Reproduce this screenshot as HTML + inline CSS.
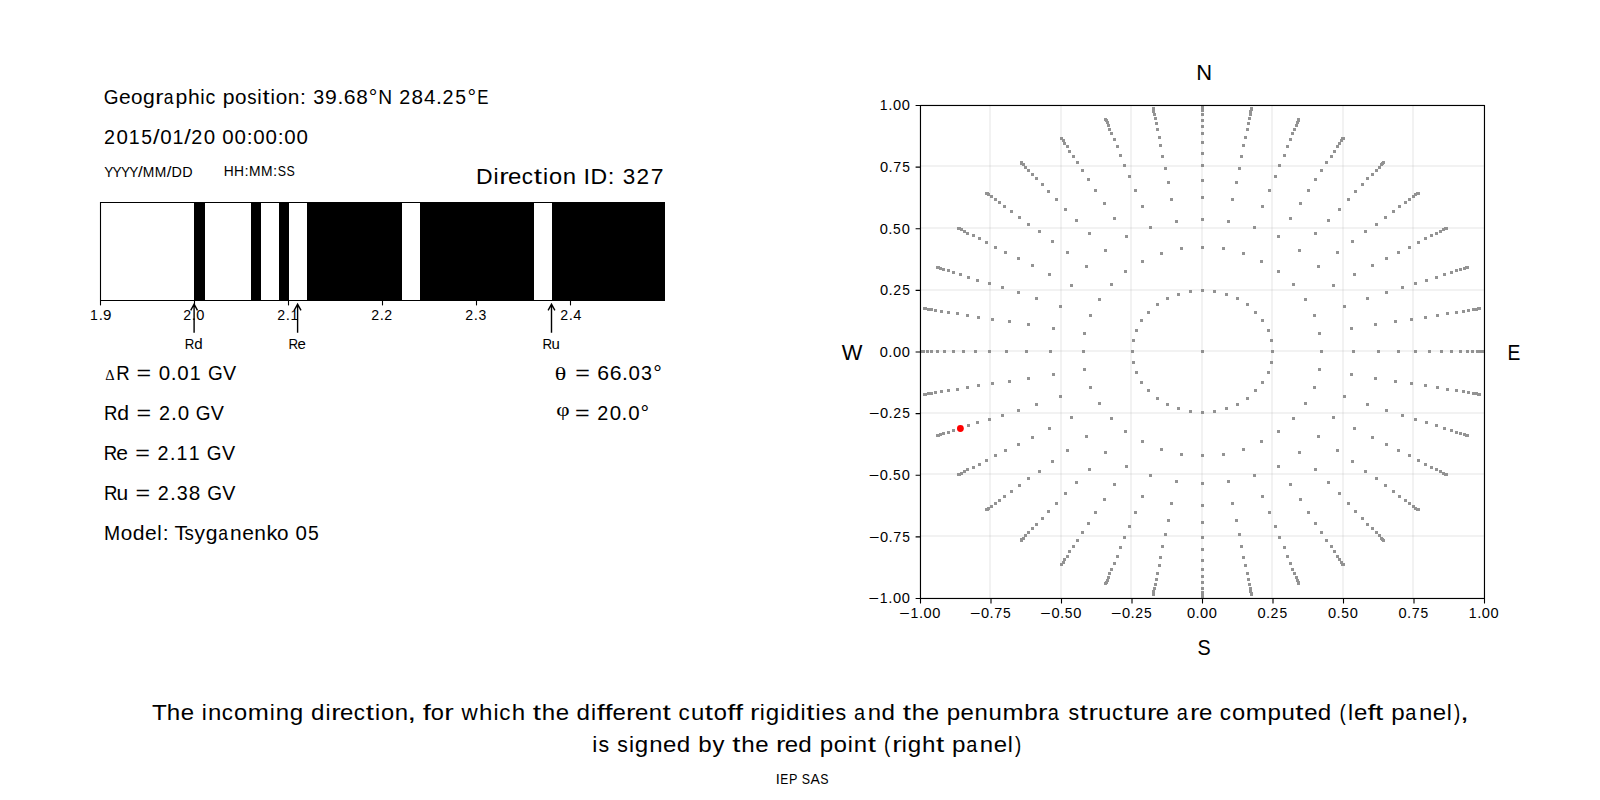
<!DOCTYPE html>
<html><head><meta charset="utf-8"><title>Direction ID 327</title>
<style>html,body{margin:0;padding:0;background:#fff;width:1600px;height:800px;overflow:hidden}svg{display:block}text{fill:#000;font-family:"Liberation Sans",sans-serif;}</style>
</head><body>
<svg width="1600" height="800" viewBox="0 0 1600 800">
<rect width="1600" height="800" fill="#fff"/>
<rect x="194" y="202" width="11" height="99" fill="#000"/>
<rect x="251" y="202" width="10" height="99" fill="#000"/>
<rect x="279" y="202" width="10" height="99" fill="#000"/>
<rect x="307" y="202" width="95" height="99" fill="#000"/>
<rect x="420" y="202" width="114" height="99" fill="#000"/>
<rect x="552" y="202" width="113" height="99" fill="#000"/>
<path d="M100.5,202 V301 M100,202.5 H665 M100,300.5 H665" stroke="#000" stroke-width="1.1" fill="none"/>
<line x1="100.5" y1="300.5" x2="100.5" y2="305.4" stroke="#000" stroke-width="1.1"/>
<line x1="194.5" y1="300.5" x2="194.5" y2="305.4" stroke="#000" stroke-width="1.1"/>
<line x1="288.5" y1="300.5" x2="288.5" y2="305.4" stroke="#000" stroke-width="1.1"/>
<line x1="382.5" y1="300.5" x2="382.5" y2="305.4" stroke="#000" stroke-width="1.1"/>
<line x1="476.5" y1="300.5" x2="476.5" y2="305.4" stroke="#000" stroke-width="1.1"/>
<line x1="570.5" y1="300.5" x2="570.5" y2="305.4" stroke="#000" stroke-width="1.1"/>
<path d="M194.1,305 V332.7 M190.70,310.3 L194.1,304.1 L197.50,310.3" stroke="#000" stroke-width="1.4" fill="none"/>
<path d="M297.6,305 V332.7 M294.20,310.3 L297.6,304.1 L301.00,310.3" stroke="#000" stroke-width="1.4" fill="none"/>
<path d="M551.5,305 V332.7 M548.10,310.3 L551.5,304.1 L554.90,310.3" stroke="#000" stroke-width="1.4" fill="none"/>
<path d="M920,106 V598 M990,106 V598 M1061,106 V598 M1131,106 V598 M1202,106 V598 M1272,106 V598 M1343,106 V598 M1413,106 V598 M1484,106 V598" stroke="#b0b0b0" stroke-opacity="0.16" stroke-width="2" fill="none"/>
<path d="M921,598 H1484 M921,536 H1484 M921,474 H1484 M921,413 H1484 M921,351 H1484 M921,290 H1484 M921,228 H1484 M921,166 H1484 M921,105 H1484" stroke="#b0b0b0" stroke-opacity="0.16" stroke-width="2" fill="none"/>
<path d="M1201,350H1204V353H1201zM1131,350H1134V353H1131zM1132,361H1135V364H1132zM1135,371H1138V374H1135zM1140,381H1143V384H1140zM1147,389H1150V392H1147zM1156,397H1159V400H1156zM1166,403H1169V406H1166zM1177,407H1180V410H1177zM1189,410H1192V413H1189zM1201,411H1204V414H1201zM1213,410H1216V413H1213zM1225,407H1228V410H1225zM1236,403H1239V406H1236zM1246,397H1249V400H1246zM1254,389H1257V392H1254zM1261,381H1264V384H1261zM1267,371H1270V374H1267zM1270,361H1273V364H1270zM1271,350H1274V353H1271zM1270,339H1273V342H1270zM1267,329H1270V332H1267zM1261,319H1264V322H1261zM1254,311H1257V314H1254zM1246,303H1249V306H1246zM1236,297H1239V300H1236zM1225,293H1228V296H1225zM1213,290H1216V293H1213zM1201,289H1204V292H1201zM1189,290H1192V293H1189zM1177,293H1180V296H1177zM1166,297H1169V300H1166zM1156,303H1159V306H1156zM1147,311H1150V314H1147zM1140,319H1143V322H1140zM1135,329H1138V332H1135zM1132,339H1135V342H1132zM1082,350H1085V353H1082zM1083,368H1086V371H1083zM1089,386H1092V389H1089zM1098,402H1101V405H1098zM1110,417H1113V420H1110zM1124,430H1127V433H1124zM1141,440H1144V443H1141zM1160,448H1163V451H1160zM1180,453H1183V456H1180zM1201,454H1204V457H1201zM1222,453H1225V456H1222zM1242,448H1245V451H1242zM1260,440H1263V443H1260zM1277,430H1280V433H1277zM1292,417H1295V420H1292zM1304,402H1307V405H1304zM1313,386H1316V389H1313zM1318,368H1321V371H1318zM1320,350H1323V353H1320zM1318,332H1321V335H1318zM1313,314H1316V317H1313zM1304,298H1307V301H1304zM1292,283H1295V286H1292zM1277,270H1280V273H1277zM1260,260H1263V263H1260zM1242,252H1245V255H1242zM1222,247H1225V250H1222zM1201,246H1204V249H1201zM1180,247H1183V250H1180zM1160,252H1163V255H1160zM1141,260H1144V263H1141zM1124,270H1127V273H1124zM1110,283H1113V286H1110zM1098,298H1101V301H1098zM1089,314H1092V317H1089zM1083,332H1086V335H1083zM1049,350H1052V353H1049zM1052,373H1055V376H1052zM1059,395H1062V398H1059zM1070,416H1073V419H1070zM1085,435H1088V438H1085zM1104,451H1107V454H1104zM1125,465H1128V468H1125zM1149,474H1152V477H1149zM1175,480H1178V483H1175zM1201,482H1204V485H1201zM1227,480H1230V483H1227zM1253,474H1256V477H1253zM1277,465H1280V468H1277zM1298,451H1301V454H1298zM1317,435H1320V438H1317zM1332,416H1335V419H1332zM1343,395H1346V398H1343zM1350,373H1353V376H1350zM1352,350H1355V353H1352zM1350,327H1353V330H1350zM1343,305H1346V308H1343zM1332,284H1335V287H1332zM1317,265H1320V268H1317zM1298,249H1301V252H1298zM1277,235H1280V238H1277zM1253,226H1256V229H1253zM1227,220H1230V223H1227zM1201,218H1204V221H1201zM1175,220H1178V223H1175zM1149,226H1152V229H1149zM1125,235H1128V238H1125zM1104,249H1107V252H1104zM1085,265H1088V268H1085zM1070,284H1073V287H1070zM1059,305H1062V308H1059zM1052,327H1055V330H1052zM1025,350H1028V353H1025zM1027,377H1030V380H1027zM1035,403H1038V406H1035zM1048,427H1051V430H1048zM1066,449H1069V452H1066zM1088,468H1091V471H1088zM1113,483H1116V486H1113zM1141,495H1144V498H1141zM1170,502H1173V505H1170zM1201,504H1204V507H1201zM1231,502H1234V505H1231zM1261,495H1264V498H1261zM1289,483H1292V486H1289zM1314,468H1317V471H1314zM1336,449H1339V452H1336zM1353,427H1356V430H1353zM1366,403H1369V406H1366zM1374,377H1377V380H1374zM1377,350H1380V353H1377zM1374,323H1377V326H1374zM1366,297H1369V300H1366zM1353,273H1356V276H1353zM1336,251H1339V254H1336zM1314,232H1317V235H1314zM1289,217H1292V220H1289zM1261,205H1264V208H1261zM1231,198H1234V201H1231zM1201,196H1204V199H1201zM1170,198H1173V201H1170zM1141,205H1144V208H1141zM1113,217H1116V220H1113zM1088,232H1091V235H1088zM1066,251H1069V254H1066zM1048,273H1051V276H1048zM1035,297H1038V300H1035zM1027,323H1030V326H1027zM1005,350H1008V353H1005zM1008,380H1011V383H1008zM1017,409H1020V412H1017zM1031,436H1034V439H1031zM1051,460H1054V463H1051zM1075,481H1078V484H1075zM1103,498H1106V501H1103zM1134,511H1137V514H1134zM1167,519H1170V522H1167zM1201,521H1204V524H1201zM1235,519H1238V522H1235zM1268,511H1271V514H1268zM1299,498H1302V501H1299zM1327,481H1330V484H1327zM1351,460H1354V463H1351zM1371,436H1374V439H1371zM1385,409H1388V412H1385zM1394,380H1397V383H1394zM1397,350H1400V353H1397zM1394,320H1397V323H1394zM1385,291H1388V294H1385zM1371,264H1374V267H1371zM1351,240H1354V243H1351zM1327,219H1330V222H1327zM1299,202H1302V205H1299zM1268,189H1271V192H1268zM1235,181H1238V184H1235zM1201,179H1204V182H1201zM1167,181H1170V184H1167zM1134,189H1137V192H1134zM1103,202H1106V205H1103zM1075,219H1078V222H1075zM1051,240H1054V243H1051zM1031,264H1034V267H1031zM1017,291H1020V294H1017zM1008,320H1011V323H1008zM988,350H991V353H988zM991,382H994V385H991zM1001,414H1004V417H1001zM1017,443H1020V446H1017zM1038,470H1041V473H1038zM1064,492H1067V495H1064zM1094,511H1097V514H1094zM1128,525H1131V528H1128zM1164,533H1167V536H1164zM1201,536H1204V539H1201zM1238,533H1241V536H1238zM1274,525H1277V528H1274zM1307,511H1310V514H1307zM1338,492H1341V495H1338zM1364,470H1367V473H1364zM1385,443H1388V446H1385zM1401,414H1404V417H1401zM1410,382H1413V385H1410zM1414,350H1417V353H1414zM1410,318H1413V321H1410zM1401,286H1404V289H1401zM1385,257H1388V260H1385zM1364,230H1367V233H1364zM1338,208H1341V211H1338zM1307,189H1310V192H1307zM1274,175H1277V178H1274zM1238,167H1241V170H1238zM1201,164H1204V167H1201zM1164,167H1167V170H1164zM1128,175H1131V178H1128zM1094,189H1097V192H1094zM1064,208H1067V211H1064zM1038,230H1041V233H1038zM1017,257H1020V260H1017zM1001,286H1004V289H1001zM991,318H994V321H991zM974,350H977V353H974zM977,384H980V387H977zM988,418H991V421H988zM1004,449H1007V452H1004zM1027,477H1030V480H1027zM1055,502H1058V505H1055zM1087,522H1090V525H1087zM1123,536H1126V539H1123zM1161,545H1164V548H1161zM1201,548H1204V551H1201zM1240,545H1243V548H1240zM1278,536H1281V539H1278zM1314,522H1317V525H1314zM1347,502H1350V505H1347zM1375,477H1378V480H1375zM1397,449H1400V452H1397zM1414,418H1417V421H1414zM1424,384H1427V387H1424zM1428,350H1431V353H1428zM1424,316H1427V319H1424zM1414,282H1417V285H1414zM1397,251H1400V254H1397zM1375,223H1378V226H1375zM1347,198H1350V201H1347zM1314,178H1317V181H1314zM1278,164H1281V167H1278zM1240,155H1243V158H1240zM1201,152H1204V155H1201zM1161,155H1164V158H1161zM1123,164H1126V167H1123zM1087,178H1090V181H1087zM1055,198H1058V201H1055zM1027,223H1030V226H1027zM1004,251H1007V254H1004zM988,282H991V285H988zM977,316H980V319H977zM962,350H965V353H962zM966,386H969V389H966zM976,421H979V424H976zM994,454H997V457H994zM1018,484H1021V487H1018zM1047,510H1050V513H1047zM1081,531H1084V534H1081zM1119,546H1122V549H1119zM1159,556H1162V559H1159zM1201,559H1204V562H1201zM1242,556H1245V559H1242zM1283,546H1286V549H1283zM1320,531H1323V534H1320zM1354,510H1357V513H1354zM1384,484H1387V487H1384zM1408,454H1411V457H1408zM1425,421H1428V424H1425zM1436,386H1439V389H1436zM1440,350H1443V353H1440zM1436,314H1439V317H1436zM1425,279H1428V282H1425zM1408,246H1411V249H1408zM1384,216H1387V219H1384zM1354,190H1357V193H1354zM1320,169H1323V172H1320zM1283,154H1286V157H1283zM1242,144H1245V147H1242zM1201,141H1204V144H1201zM1159,144H1162V147H1159zM1119,154H1122V157H1119zM1081,169H1084V172H1081zM1047,190H1050V193H1047zM1018,216H1021V219H1018zM994,246H997V249H994zM976,279H979V282H976zM966,314H969V317H966zM952,350H955V353H952zM956,388H959V391H956zM967,424H970V427H967zM985,459H988V462H985zM1010,490H1013V493H1010zM1041,517H1044V520H1041zM1076,539H1079V542H1076zM1116,555H1119V558H1116zM1158,564H1161V567H1158zM1201,568H1204V571H1201zM1244,564H1247V567H1244zM1286,555H1289V558H1286zM1325,539H1328V542H1325zM1361,517H1364V520H1361zM1392,490H1395V493H1392zM1417,459H1420V462H1417zM1435,424H1438V427H1435zM1446,388H1449V391H1446zM1450,350H1453V353H1450zM1446,312H1449V315H1446zM1435,276H1438V279H1435zM1417,241H1420V244H1417zM1392,210H1395V213H1392zM1361,183H1364V186H1361zM1325,161H1328V164H1325zM1286,145H1289V148H1286zM1244,136H1247V139H1244zM1201,132H1204V135H1201zM1158,136H1161V139H1158zM1116,145H1119V148H1116zM1076,161H1079V164H1076zM1041,183H1044V186H1041zM1010,210H1013V213H1010zM985,241H988V244H985zM967,276H970V279H967zM956,312H959V315H956zM943,350H946V353H943zM947,389H950V392H947zM959,427H962V430H959zM978,463H981V466H978zM1003,495H1006V498H1003zM1035,523H1038V526H1035zM1072,545H1075V548H1072zM1113,562H1116V565H1113zM1156,572H1159V575H1156zM1201,575H1204V578H1201zM1246,572H1249V575H1246zM1289,562H1292V565H1289zM1330,545H1333V548H1330zM1366,523H1369V526H1366zM1398,495H1401V498H1398zM1424,463H1427V466H1424zM1443,427H1446V430H1443zM1455,389H1458V392H1455zM1459,350H1462V353H1459zM1455,311H1458V314H1455zM1443,273H1446V276H1443zM1424,237H1427V240H1424zM1398,205H1401V208H1398zM1366,177H1369V180H1366zM1330,155H1333V158H1330zM1289,138H1292V141H1289zM1246,128H1249V131H1246zM1201,125H1204V128H1201zM1156,128H1159V131H1156zM1113,138H1116V141H1113zM1072,155H1075V158H1072zM1035,177H1038V180H1035zM1003,205H1006V208H1003zM978,237H981V240H978zM959,273H962V276H959zM947,311H950V314H947zM936,350H939V353H936zM940,390H943V393H940zM952,429H955V432H952zM972,466H975V469H972zM998,499H1001V502H998zM1031,527H1034V530H1031zM1068,550H1071V553H1068zM1110,568H1113V571H1110zM1155,578H1158V581H1155zM1201,581H1204V584H1201zM1247,578H1250V581H1247zM1291,568H1294V571H1291zM1333,550H1336V553H1333zM1371,527H1374V530H1371zM1404,499H1407V502H1404zM1430,466H1433V469H1430zM1450,429H1453V432H1450zM1462,390H1465V393H1462zM1466,350H1469V353H1466zM1462,310H1465V313H1462zM1450,271H1453V274H1450zM1430,234H1433V237H1430zM1404,201H1407V204H1404zM1371,173H1374V176H1371zM1333,150H1336V153H1333zM1291,132H1294V135H1291zM1247,122H1250V125H1247zM1201,119H1204V122H1201zM1155,122H1158V125H1155zM1110,132H1113V135H1110zM1068,150H1071V153H1068zM1031,173H1034V176H1031zM998,201H1001V204H998zM972,234H975V237H972zM952,271H955V274H952zM940,310H943V313H940zM930,350H933V353H930zM934,391H937V394H934zM947,431H950V434H947zM966,468H969V471H966zM994,502H997V505H994zM1027,531H1030V534H1027zM1066,555H1069V558H1066zM1108,572H1111V575H1108zM1154,583H1157V586H1154zM1201,587H1204V590H1201zM1248,583H1251V586H1248zM1293,572H1296V575H1293zM1336,555H1339V558H1336zM1375,531H1378V534H1375zM1408,502H1411V505H1408zM1435,468H1438V471H1435zM1455,431H1458V434H1455zM1467,391H1470V394H1467zM1471,350H1474V353H1471zM1467,309H1470V312H1467zM1455,269H1458V272H1455zM1435,232H1438V235H1435zM1408,198H1411V201H1408zM1375,169H1378V172H1375zM1336,145H1339V148H1336zM1293,128H1296V131H1293zM1248,117H1251V120H1248zM1201,113H1204V116H1201zM1154,117H1157V120H1154zM1108,128H1111V131H1108zM1066,145H1069V148H1066zM1027,169H1030V172H1027zM994,198H997V201H994zM966,232H969V235H966zM947,269H950V272H947zM934,309H937V312H934zM926,350H929V353H926zM930,392H933V395H930zM942,432H945V435H942zM963,470H966V473H963zM990,505H993V508H990zM1024,534H1027V537H1024zM1063,558H1066V561H1063zM1107,576H1110V579H1107zM1153,587H1156V590H1153zM1201,591H1204V594H1201zM1249,587H1252V590H1249zM1295,576H1298V579H1295zM1338,558H1341V561H1338zM1378,534H1381V537H1378zM1412,505H1415V508H1412zM1439,470H1442V473H1439zM1459,432H1462V435H1459zM1472,392H1475V395H1472zM1476,350H1479V353H1476zM1472,308H1475V311H1472zM1459,268H1462V271H1459zM1439,230H1442V233H1439zM1412,195H1415V198H1412zM1378,166H1381V169H1378zM1338,142H1341V145H1338zM1295,124H1298V127H1295zM1249,113H1252V116H1249zM1201,109H1204V112H1201zM1153,113H1156V116H1153zM1107,124H1110V127H1107zM1063,142H1066V145H1063zM1024,166H1027V169H1024zM990,195H993V198H990zM963,230H966V233H963zM942,268H945V271H942zM930,308H933V311H930zM922,350H925V353H922zM927,392H930V395H927zM939,433H942V436H939zM960,472H963V475H960zM987,507H990V510H987zM1022,537H1025V540H1022zM1062,561H1065V564H1062zM1106,579H1109V582H1106zM1152,590H1155V593H1152zM1201,593H1204V596H1201zM1249,590H1252V593H1249zM1296,579H1299V582H1296zM1340,561H1343V564H1340zM1380,537H1383V540H1380zM1414,507H1417V510H1414zM1442,472H1445V475H1442zM1463,433H1466V436H1463zM1475,392H1478V395H1475zM1479,350H1482V353H1479zM1475,308H1478V311H1475zM1463,267H1466V270H1463zM1442,228H1445V231H1442zM1414,193H1417V196H1414zM1380,163H1383V166H1380zM1340,139H1343V142H1340zM1296,121H1299V124H1296zM1249,110H1252V113H1249zM1201,107H1204V110H1201zM1152,110H1155V113H1152zM1106,121H1109V124H1106zM1062,139H1065V142H1062zM1022,163H1025V166H1022zM987,193H990V196H987zM960,228H963V231H960zM939,267H942V270H939zM927,308H930V311H927zM921,350H923V353H921zM924,393H927V396H924zM937,434H940V437H937zM958,473H961V476H958zM986,508H989V511H986zM1020,538H1023V541H1020zM1060,563H1063V566H1060zM1105,581H1108V584H1105zM1152,592H1155V595H1152zM1201,595H1204V598H1201zM1250,592H1253V595H1250zM1297,581H1300V584H1297zM1341,563H1344V566H1341zM1381,538H1384V541H1381zM1416,508H1419V511H1416zM1444,473H1447V476H1444zM1465,434H1468V437H1465zM1477,393H1480V396H1477zM1482,350H1484V353H1482zM1477,307H1480V310H1477zM1465,266H1468V269H1465zM1444,227H1447V230H1444zM1416,192H1419V195H1416zM1381,162H1384V165H1381zM1341,137H1344V140H1341zM1297,119H1300V122H1297zM1250,108H1253V111H1250zM1201,106H1204V108H1201zM1152,108H1155V111H1152zM1105,119H1108V122H1105zM1060,137H1063V140H1060zM1020,162H1023V165H1020zM986,192H989V195H986zM958,227H961V230H958zM937,266H940V269H937zM924,307H927V310H924zM921,350H922V353H921zM923,393H926V396H923zM936,434H939V437H936zM957,473H960V476H957zM985,508H988V511H985zM1020,539H1023V542H1020zM1060,563H1063V566H1060zM1104,582H1107V585H1104zM1152,593H1155V596H1152zM1201,596H1204V598H1201zM1250,593H1253V596H1250zM1297,582H1300V585H1297zM1342,563H1345V566H1342zM1382,539H1385V542H1382zM1417,508H1420V511H1417zM1445,473H1448V476H1445zM1466,434H1469V437H1466zM1478,393H1481V396H1478zM1483,350H1484V353H1483zM1478,307H1481V310H1478zM1466,266H1469V269H1466zM1445,227H1448V230H1445zM1417,192H1420V195H1417zM1382,161H1385V164H1382zM1342,137H1345V140H1342zM1297,118H1300V121H1297zM1250,107H1253V110H1250zM1201,106H1204V107H1201zM1152,107H1155V110H1152zM1104,118H1107V121H1104zM1060,137H1063V140H1060zM1020,161H1023V164H1020zM985,192H988V195H985zM957,227H960V230H957zM936,266H939V269H936zM923,307H926V310H923z" fill="#808080" fill-opacity="0.85"/>
<circle cx="960.4" cy="428.5" r="3.4" fill="#ff0000"/>
<rect x="920.5" y="105.5" width="564" height="493" fill="none" stroke="#000" stroke-width="1.1"/>
<path d="M920.50,598.5 V603.4 M920.5,598.50 H915.6 M991.00,598.5 V603.4 M920.5,536.88 H915.6 M1061.50,598.5 V603.4 M920.5,475.25 H915.6 M1132.00,598.5 V603.4 M920.5,413.62 H915.6 M1202.50,598.5 V603.4 M920.5,352.00 H915.6 M1273.00,598.5 V603.4 M920.5,290.38 H915.6 M1343.50,598.5 V603.4 M920.5,228.75 H915.6 M1414.00,598.5 V603.4 M920.5,167.12 H915.6 M1484.50,598.5 V603.4 M920.5,105.50 H915.6" stroke="#000" stroke-width="1.1" fill="none"/>
<text transform="translate(103.73,104.00)" y="0" font-size="19.44"><tspan x="0.14" textLength="14.75" lengthAdjust="spacingAndGlyphs">G</tspan><tspan x="15.31" textLength="11.68" lengthAdjust="spacingAndGlyphs">e</tspan><tspan x="27.33" textLength="11.50" lengthAdjust="spacingAndGlyphs">o</tspan><tspan x="39.31" textLength="11.75" lengthAdjust="spacingAndGlyphs">g</tspan><tspan x="51.61" textLength="8.30" lengthAdjust="spacingAndGlyphs">r</tspan><tspan x="60.05" textLength="9.72" lengthAdjust="spacingAndGlyphs">a</tspan><tspan x="71.90" textLength="11.77" lengthAdjust="spacingAndGlyphs">p</tspan><tspan x="84.18" textLength="11.74" lengthAdjust="spacingAndGlyphs">h</tspan><tspan x="96.63" textLength="4.42" lengthAdjust="spacingAndGlyphs">i</tspan><tspan x="101.87" textLength="9.76" lengthAdjust="spacingAndGlyphs">c</tspan> <tspan x="119.03" textLength="11.77" lengthAdjust="spacingAndGlyphs">p</tspan><tspan x="131.20" textLength="11.50" lengthAdjust="spacingAndGlyphs">o</tspan><tspan x="143.54" textLength="9.32" lengthAdjust="spacingAndGlyphs">s</tspan><tspan x="153.63" textLength="4.42" lengthAdjust="spacingAndGlyphs">i</tspan><tspan x="158.75" textLength="7.22" lengthAdjust="spacingAndGlyphs">t</tspan><tspan x="166.75" textLength="4.42" lengthAdjust="spacingAndGlyphs">i</tspan><tspan x="171.95" textLength="11.50" lengthAdjust="spacingAndGlyphs">o</tspan><tspan x="184.12" textLength="11.66" lengthAdjust="spacingAndGlyphs">n</tspan><tspan x="196.36" textLength="5.85" lengthAdjust="spacingAndGlyphs">:</tspan> <tspan x="209.48" textLength="10.95" lengthAdjust="spacingAndGlyphs">3</tspan><tspan x="221.36" textLength="11.77" lengthAdjust="spacingAndGlyphs">9</tspan><tspan x="233.66" textLength="5.85" lengthAdjust="spacingAndGlyphs">.</tspan><tspan x="240.03" textLength="11.80" lengthAdjust="spacingAndGlyphs">6</tspan><tspan x="252.54" textLength="11.52" lengthAdjust="spacingAndGlyphs">8</tspan><tspan x="265.07" textLength="8.59" lengthAdjust="spacingAndGlyphs">°</tspan><tspan x="274.58" textLength="13.87" lengthAdjust="spacingAndGlyphs">N</tspan> <tspan x="295.43" textLength="10.99" lengthAdjust="spacingAndGlyphs">2</tspan><tspan x="307.79" textLength="11.52" lengthAdjust="spacingAndGlyphs">8</tspan><tspan x="320.23" textLength="11.40" lengthAdjust="spacingAndGlyphs">4</tspan><tspan x="332.28" textLength="5.85" lengthAdjust="spacingAndGlyphs">.</tspan><tspan x="338.81" textLength="10.99" lengthAdjust="spacingAndGlyphs">2</tspan><tspan x="351.48" textLength="10.76" lengthAdjust="spacingAndGlyphs">5</tspan><tspan x="363.82" textLength="8.59" lengthAdjust="spacingAndGlyphs">°</tspan><tspan x="373.53" textLength="11.24" lengthAdjust="spacingAndGlyphs">E</tspan></text>
<text transform="translate(103.55,144.00)" y="0" font-size="19.44"><tspan x="0.43" textLength="10.99" lengthAdjust="spacingAndGlyphs">2</tspan><tspan x="12.86" textLength="11.40" lengthAdjust="spacingAndGlyphs">0</tspan><tspan x="25.27" textLength="10.89" lengthAdjust="spacingAndGlyphs">1</tspan><tspan x="37.73" textLength="10.76" lengthAdjust="spacingAndGlyphs">5</tspan><tspan x="49.50" textLength="6.55" lengthAdjust="spacingAndGlyphs">/</tspan><tspan x="56.61" textLength="11.40" lengthAdjust="spacingAndGlyphs">0</tspan><tspan x="69.02" textLength="10.89" lengthAdjust="spacingAndGlyphs">1</tspan><tspan x="80.75" textLength="6.55" lengthAdjust="spacingAndGlyphs">/</tspan><tspan x="87.81" textLength="10.99" lengthAdjust="spacingAndGlyphs">2</tspan><tspan x="100.23" textLength="11.40" lengthAdjust="spacingAndGlyphs">0</tspan> <tspan x="118.73" textLength="11.40" lengthAdjust="spacingAndGlyphs">0</tspan><tspan x="130.98" textLength="11.40" lengthAdjust="spacingAndGlyphs">0</tspan><tspan x="143.11" textLength="5.85" lengthAdjust="spacingAndGlyphs">:</tspan><tspan x="149.73" textLength="11.40" lengthAdjust="spacingAndGlyphs">0</tspan><tspan x="161.98" textLength="11.40" lengthAdjust="spacingAndGlyphs">0</tspan><tspan x="174.11" textLength="5.85" lengthAdjust="spacingAndGlyphs">:</tspan><tspan x="180.73" textLength="11.40" lengthAdjust="spacingAndGlyphs">0</tspan><tspan x="192.98" textLength="11.40" lengthAdjust="spacingAndGlyphs">0</tspan></text>
<text transform="translate(104.53,176.90)" y="0" font-size="14.17"><tspan x="-0.33" textLength="9.14" lengthAdjust="spacingAndGlyphs">Y</tspan><tspan x="8.05" textLength="9.14" lengthAdjust="spacingAndGlyphs">Y</tspan><tspan x="16.42" textLength="9.14" lengthAdjust="spacingAndGlyphs">Y</tspan><tspan x="24.80" textLength="9.14" lengthAdjust="spacingAndGlyphs">Y</tspan><tspan x="33.50" textLength="4.68" lengthAdjust="spacingAndGlyphs">/</tspan><tspan x="38.35" textLength="11.54" lengthAdjust="spacingAndGlyphs">M</tspan><tspan x="50.35" textLength="11.54" lengthAdjust="spacingAndGlyphs">M</tspan><tspan x="62.13" textLength="4.68" lengthAdjust="spacingAndGlyphs">/</tspan><tspan x="66.93" textLength="10.38" lengthAdjust="spacingAndGlyphs">D</tspan><tspan x="77.68" textLength="10.38" lengthAdjust="spacingAndGlyphs">D</tspan></text>
<text transform="translate(223.42,176.00)" y="0" font-size="14.17"><tspan x="0.23" textLength="9.98" lengthAdjust="spacingAndGlyphs">H</tspan><tspan x="10.60" textLength="9.98" lengthAdjust="spacingAndGlyphs">H</tspan><tspan x="21.01" textLength="4.18" lengthAdjust="spacingAndGlyphs">:</tspan><tspan x="25.60" textLength="11.54" lengthAdjust="spacingAndGlyphs">M</tspan><tspan x="37.60" textLength="11.54" lengthAdjust="spacingAndGlyphs">M</tspan><tspan x="49.63" textLength="4.18" lengthAdjust="spacingAndGlyphs">:</tspan><tspan x="54.35" textLength="8.26" lengthAdjust="spacingAndGlyphs">S</tspan><tspan x="63.10" textLength="8.26" lengthAdjust="spacingAndGlyphs">S</tspan></text>
<text transform="translate(475.73,183.75)" y="0" font-size="22.22"><tspan x="0.29" textLength="16.60" lengthAdjust="spacingAndGlyphs">D</tspan><tspan x="17.70" textLength="5.05" lengthAdjust="spacingAndGlyphs">i</tspan><tspan x="23.50" textLength="9.48" lengthAdjust="spacingAndGlyphs">r</tspan><tspan x="32.33" textLength="13.35" lengthAdjust="spacingAndGlyphs">e</tspan><tspan x="46.03" textLength="11.15" lengthAdjust="spacingAndGlyphs">c</tspan><tspan x="58.15" textLength="8.25" lengthAdjust="spacingAndGlyphs">t</tspan><tspan x="67.32" textLength="5.05" lengthAdjust="spacingAndGlyphs">i</tspan><tspan x="73.23" textLength="13.14" lengthAdjust="spacingAndGlyphs">o</tspan><tspan x="87.05" textLength="13.32" lengthAdjust="spacingAndGlyphs">n</tspan> <tspan x="107.89" textLength="6.53" lengthAdjust="spacingAndGlyphs">I</tspan><tspan x="114.67" textLength="16.60" lengthAdjust="spacingAndGlyphs">D</tspan><tspan x="131.91" textLength="6.68" lengthAdjust="spacingAndGlyphs">:</tspan> <tspan x="146.96" textLength="12.51" lengthAdjust="spacingAndGlyphs">3</tspan><tspan x="160.74" textLength="12.56" lengthAdjust="spacingAndGlyphs">2</tspan><tspan x="175.02" textLength="12.74" lengthAdjust="spacingAndGlyphs">7</tspan></text>
<text transform="translate(105.25,379.80) scale(0.1456,0.1454)" style="font-family:&quot;Liberation Serif&quot;" font-size="100">Δ</text>
<text transform="translate(115.88,379.80)" y="0" font-size="19.44"><tspan x="0.38" textLength="13.43" lengthAdjust="spacingAndGlyphs">R</tspan> <tspan x="20.59" textLength="14.63" lengthAdjust="spacingAndGlyphs">=</tspan> <tspan x="42.98" textLength="11.40" lengthAdjust="spacingAndGlyphs">0</tspan><tspan x="54.91" textLength="5.85" lengthAdjust="spacingAndGlyphs">.</tspan><tspan x="61.48" textLength="11.40" lengthAdjust="spacingAndGlyphs">0</tspan><tspan x="73.90" textLength="10.89" lengthAdjust="spacingAndGlyphs">1</tspan> <tspan x="92.01" textLength="14.75" lengthAdjust="spacingAndGlyphs">G</tspan><tspan x="107.07" textLength="13.16" lengthAdjust="spacingAndGlyphs">V</tspan></text>
<text transform="translate(103.66,420.00)" y="0" font-size="19.44"><tspan x="0.38" textLength="13.43" lengthAdjust="spacingAndGlyphs">R</tspan><tspan x="13.69" textLength="11.75" lengthAdjust="spacingAndGlyphs">d</tspan> <tspan x="32.96" textLength="14.63" lengthAdjust="spacingAndGlyphs">=</tspan> <tspan x="55.31" textLength="10.99" lengthAdjust="spacingAndGlyphs">2</tspan><tspan x="67.41" textLength="5.85" lengthAdjust="spacingAndGlyphs">.</tspan><tspan x="73.98" textLength="11.40" lengthAdjust="spacingAndGlyphs">0</tspan> <tspan x="92.14" textLength="14.75" lengthAdjust="spacingAndGlyphs">G</tspan><tspan x="107.19" textLength="13.16" lengthAdjust="spacingAndGlyphs">V</tspan></text>
<text transform="translate(103.49,459.70)" y="0" font-size="19.44"><tspan x="0.38" textLength="13.43" lengthAdjust="spacingAndGlyphs">R</tspan><tspan x="12.81" textLength="11.68" lengthAdjust="spacingAndGlyphs">e</tspan> <tspan x="31.71" textLength="14.63" lengthAdjust="spacingAndGlyphs">=</tspan> <tspan x="54.06" textLength="10.99" lengthAdjust="spacingAndGlyphs">2</tspan><tspan x="66.16" textLength="5.85" lengthAdjust="spacingAndGlyphs">.</tspan><tspan x="72.90" textLength="10.89" lengthAdjust="spacingAndGlyphs">1</tspan><tspan x="85.27" textLength="10.89" lengthAdjust="spacingAndGlyphs">1</tspan> <tspan x="103.39" textLength="14.75" lengthAdjust="spacingAndGlyphs">G</tspan><tspan x="118.44" textLength="13.16" lengthAdjust="spacingAndGlyphs">V</tspan></text>
<text transform="translate(103.51,499.80)" y="0" font-size="19.44"><tspan x="0.38" textLength="13.43" lengthAdjust="spacingAndGlyphs">R</tspan><tspan x="12.92" textLength="11.66" lengthAdjust="spacingAndGlyphs">u</tspan> <tspan x="31.96" textLength="14.63" lengthAdjust="spacingAndGlyphs">=</tspan> <tspan x="54.31" textLength="10.99" lengthAdjust="spacingAndGlyphs">2</tspan><tspan x="66.41" textLength="5.85" lengthAdjust="spacingAndGlyphs">.</tspan><tspan x="73.23" textLength="10.95" lengthAdjust="spacingAndGlyphs">3</tspan><tspan x="85.29" textLength="11.52" lengthAdjust="spacingAndGlyphs">8</tspan> <tspan x="103.64" textLength="14.75" lengthAdjust="spacingAndGlyphs">G</tspan><tspan x="118.69" textLength="13.16" lengthAdjust="spacingAndGlyphs">V</tspan></text>
<text transform="translate(103.76,539.60)" y="0" font-size="19.44"><tspan x="0.32" textLength="16.15" lengthAdjust="spacingAndGlyphs">M</tspan><tspan x="16.95" textLength="11.50" lengthAdjust="spacingAndGlyphs">o</tspan><tspan x="28.94" textLength="11.75" lengthAdjust="spacingAndGlyphs">d</tspan><tspan x="41.31" textLength="11.68" lengthAdjust="spacingAndGlyphs">e</tspan><tspan x="53.62" textLength="4.42" lengthAdjust="spacingAndGlyphs">l</tspan><tspan x="58.98" textLength="5.85" lengthAdjust="spacingAndGlyphs">:</tspan> <tspan x="70.84" textLength="12.95" lengthAdjust="spacingAndGlyphs">T</tspan><tspan x="80.66" textLength="9.32" lengthAdjust="spacingAndGlyphs">s</tspan><tspan x="90.78" textLength="10.44" lengthAdjust="spacingAndGlyphs">y</tspan><tspan x="101.94" textLength="11.75" lengthAdjust="spacingAndGlyphs">g</tspan><tspan x="114.55" textLength="9.72" lengthAdjust="spacingAndGlyphs">a</tspan><tspan x="126.37" textLength="11.66" lengthAdjust="spacingAndGlyphs">n</tspan><tspan x="138.43" textLength="11.68" lengthAdjust="spacingAndGlyphs">e</tspan><tspan x="150.62" textLength="11.66" lengthAdjust="spacingAndGlyphs">n</tspan><tspan x="162.80" textLength="10.87" lengthAdjust="spacingAndGlyphs">k</tspan><tspan x="173.20" textLength="11.50" lengthAdjust="spacingAndGlyphs">o</tspan> <tspan x="191.73" textLength="11.40" lengthAdjust="spacingAndGlyphs">0</tspan><tspan x="204.23" textLength="10.76" lengthAdjust="spacingAndGlyphs">5</tspan></text>
<text transform="translate(554.77,379.82) scale(0.2412,0.1862)" style="font-family:&quot;Liberation Serif&quot;" font-size="100">θ</text>
<text transform="translate(574.35,379.70)" y="0" font-size="19.44"><tspan x="0.84" textLength="14.63" lengthAdjust="spacingAndGlyphs">=</tspan> <tspan x="23.03" textLength="11.80" lengthAdjust="spacingAndGlyphs">6</tspan><tspan x="35.41" textLength="11.80" lengthAdjust="spacingAndGlyphs">6</tspan><tspan x="47.66" textLength="5.85" lengthAdjust="spacingAndGlyphs">.</tspan><tspan x="54.23" textLength="11.40" lengthAdjust="spacingAndGlyphs">0</tspan><tspan x="66.73" textLength="10.95" lengthAdjust="spacingAndGlyphs">3</tspan><tspan x="78.95" textLength="8.59" lengthAdjust="spacingAndGlyphs">°</tspan></text>
<text transform="translate(556.30,415.83) scale(0.2322,0.1957)" style="font-family:&quot;Liberation Serif&quot;" font-size="100">φ</text>
<text transform="translate(574.10,419.70)" y="0" font-size="19.44"><tspan x="0.84" textLength="14.63" lengthAdjust="spacingAndGlyphs">=</tspan> <tspan x="23.18" textLength="10.99" lengthAdjust="spacingAndGlyphs">2</tspan><tspan x="35.61" textLength="11.40" lengthAdjust="spacingAndGlyphs">0</tspan><tspan x="47.53" textLength="5.85" lengthAdjust="spacingAndGlyphs">.</tspan><tspan x="54.11" textLength="11.40" lengthAdjust="spacingAndGlyphs">0</tspan><tspan x="66.45" textLength="8.59" lengthAdjust="spacingAndGlyphs">°</tspan></text>
<text transform="translate(89.67,320.10)" y="0" font-size="14.17"><tspan x="0.46" textLength="7.78" lengthAdjust="spacingAndGlyphs">1</tspan><tspan x="8.99" textLength="4.18" lengthAdjust="spacingAndGlyphs">.</tspan><tspan x="13.42" textLength="8.41" lengthAdjust="spacingAndGlyphs">9</tspan></text>
<text transform="translate(182.88,320.10)" y="0" font-size="14.17"><tspan x="0.31" textLength="7.85" lengthAdjust="spacingAndGlyphs">2</tspan><tspan x="8.86" textLength="4.18" lengthAdjust="spacingAndGlyphs">.</tspan><tspan x="13.47" textLength="8.14" lengthAdjust="spacingAndGlyphs">0</tspan></text>
<text transform="translate(276.88,320.10)" y="0" font-size="14.17"><tspan x="0.31" textLength="7.85" lengthAdjust="spacingAndGlyphs">2</tspan><tspan x="8.86" textLength="4.18" lengthAdjust="spacingAndGlyphs">.</tspan><tspan x="13.59" textLength="7.78" lengthAdjust="spacingAndGlyphs">1</tspan></text>
<text transform="translate(370.88,320.10)" y="0" font-size="14.17"><tspan x="0.31" textLength="7.85" lengthAdjust="spacingAndGlyphs">2</tspan><tspan x="8.86" textLength="4.18" lengthAdjust="spacingAndGlyphs">.</tspan><tspan x="13.43" textLength="7.85" lengthAdjust="spacingAndGlyphs">2</tspan></text>
<text transform="translate(464.88,320.10)" y="0" font-size="14.17"><tspan x="0.31" textLength="7.85" lengthAdjust="spacingAndGlyphs">2</tspan><tspan x="8.86" textLength="4.18" lengthAdjust="spacingAndGlyphs">.</tspan><tspan x="13.65" textLength="7.82" lengthAdjust="spacingAndGlyphs">3</tspan></text>
<text transform="translate(559.88,320.10)" y="0" font-size="14.17"><tspan x="0.31" textLength="7.85" lengthAdjust="spacingAndGlyphs">2</tspan><tspan x="8.86" textLength="4.18" lengthAdjust="spacingAndGlyphs">.</tspan><tspan x="13.47" textLength="8.14" lengthAdjust="spacingAndGlyphs">4</tspan></text>
<text transform="translate(184.43,348.60)" y="0" font-size="14.17"><tspan x="0.27" textLength="9.59" lengthAdjust="spacingAndGlyphs">R</tspan><tspan x="9.76" textLength="8.40" lengthAdjust="spacingAndGlyphs">d</tspan></text>
<text transform="translate(288.32,348.60)" y="0" font-size="14.17"><tspan x="0.27" textLength="9.59" lengthAdjust="spacingAndGlyphs">R</tspan><tspan x="9.13" textLength="8.34" lengthAdjust="spacingAndGlyphs">e</tspan></text>
<text transform="translate(542.30,348.60)" y="0" font-size="14.17"><tspan x="0.27" textLength="9.59" lengthAdjust="spacingAndGlyphs">R</tspan><tspan x="9.21" textLength="8.33" lengthAdjust="spacingAndGlyphs">u</tspan></text>
<text transform="translate(1195.89,79.90)" y="0" font-size="22.22"><tspan x="0.38" textLength="15.85" lengthAdjust="spacingAndGlyphs">N</tspan></text>
<text transform="translate(1196.98,655.30)" y="0" font-size="22.22"><tspan x="0.57" textLength="13.21" lengthAdjust="spacingAndGlyphs">S</tspan></text>
<text transform="translate(841.01,359.90)" y="0" font-size="22.22"><tspan x="0.64" textLength="20.68" lengthAdjust="spacingAndGlyphs">W</tspan></text>
<text transform="translate(1506.95,359.90)" y="0" font-size="22.22"><tspan x="0.60" textLength="12.85" lengthAdjust="spacingAndGlyphs">E</tspan></text>
<text transform="translate(867.71,603.30)" y="0" font-size="14.17"><tspan x="0.59" textLength="10.45" lengthAdjust="spacingAndGlyphs">−</tspan><tspan x="12.09" textLength="7.78" lengthAdjust="spacingAndGlyphs">1</tspan><tspan x="20.61" textLength="4.18" lengthAdjust="spacingAndGlyphs">.</tspan><tspan x="25.22" textLength="8.14" lengthAdjust="spacingAndGlyphs">0</tspan><tspan x="33.97" textLength="8.14" lengthAdjust="spacingAndGlyphs">0</tspan></text>
<text transform="translate(898.39,618.00)" y="0" font-size="14.17"><tspan x="0.59" textLength="10.45" lengthAdjust="spacingAndGlyphs">−</tspan><tspan x="12.09" textLength="7.78" lengthAdjust="spacingAndGlyphs">1</tspan><tspan x="20.61" textLength="4.18" lengthAdjust="spacingAndGlyphs">.</tspan><tspan x="25.22" textLength="8.14" lengthAdjust="spacingAndGlyphs">0</tspan><tspan x="33.97" textLength="8.14" lengthAdjust="spacingAndGlyphs">0</tspan></text>
<text transform="translate(868.13,541.67)" y="0" font-size="14.17"><tspan x="0.59" textLength="10.45" lengthAdjust="spacingAndGlyphs">−</tspan><tspan x="11.97" textLength="8.14" lengthAdjust="spacingAndGlyphs">0</tspan><tspan x="20.49" textLength="4.18" lengthAdjust="spacingAndGlyphs">.</tspan><tspan x="25.16" textLength="7.96" lengthAdjust="spacingAndGlyphs">7</tspan><tspan x="34.02" textLength="7.68" lengthAdjust="spacingAndGlyphs">5</tspan></text>
<text transform="translate(969.10,618.00)" y="0" font-size="14.17"><tspan x="0.59" textLength="10.45" lengthAdjust="spacingAndGlyphs">−</tspan><tspan x="11.97" textLength="8.14" lengthAdjust="spacingAndGlyphs">0</tspan><tspan x="20.49" textLength="4.18" lengthAdjust="spacingAndGlyphs">.</tspan><tspan x="25.16" textLength="7.96" lengthAdjust="spacingAndGlyphs">7</tspan><tspan x="34.02" textLength="7.68" lengthAdjust="spacingAndGlyphs">5</tspan></text>
<text transform="translate(867.84,480.05)" y="0" font-size="14.17"><tspan x="0.59" textLength="10.45" lengthAdjust="spacingAndGlyphs">−</tspan><tspan x="11.97" textLength="8.14" lengthAdjust="spacingAndGlyphs">0</tspan><tspan x="20.49" textLength="4.18" lengthAdjust="spacingAndGlyphs">.</tspan><tspan x="25.27" textLength="7.68" lengthAdjust="spacingAndGlyphs">5</tspan><tspan x="33.84" textLength="8.14" lengthAdjust="spacingAndGlyphs">0</tspan></text>
<text transform="translate(1039.46,618.00)" y="0" font-size="14.17"><tspan x="0.59" textLength="10.45" lengthAdjust="spacingAndGlyphs">−</tspan><tspan x="11.97" textLength="8.14" lengthAdjust="spacingAndGlyphs">0</tspan><tspan x="20.49" textLength="4.18" lengthAdjust="spacingAndGlyphs">.</tspan><tspan x="25.27" textLength="7.68" lengthAdjust="spacingAndGlyphs">5</tspan><tspan x="33.84" textLength="8.14" lengthAdjust="spacingAndGlyphs">0</tspan></text>
<text transform="translate(868.13,418.43)" y="0" font-size="14.17"><tspan x="0.59" textLength="10.45" lengthAdjust="spacingAndGlyphs">−</tspan><tspan x="11.97" textLength="8.14" lengthAdjust="spacingAndGlyphs">0</tspan><tspan x="20.49" textLength="4.18" lengthAdjust="spacingAndGlyphs">.</tspan><tspan x="25.06" textLength="7.85" lengthAdjust="spacingAndGlyphs">2</tspan><tspan x="34.02" textLength="7.68" lengthAdjust="spacingAndGlyphs">5</tspan></text>
<text transform="translate(1110.10,618.00)" y="0" font-size="14.17"><tspan x="0.59" textLength="10.45" lengthAdjust="spacingAndGlyphs">−</tspan><tspan x="11.97" textLength="8.14" lengthAdjust="spacingAndGlyphs">0</tspan><tspan x="20.49" textLength="4.18" lengthAdjust="spacingAndGlyphs">.</tspan><tspan x="25.06" textLength="7.85" lengthAdjust="spacingAndGlyphs">2</tspan><tspan x="34.02" textLength="7.68" lengthAdjust="spacingAndGlyphs">5</tspan></text>
<text transform="translate(879.46,356.80)" y="0" font-size="14.17"><tspan x="0.34" textLength="8.14" lengthAdjust="spacingAndGlyphs">0</tspan><tspan x="8.86" textLength="4.18" lengthAdjust="spacingAndGlyphs">.</tspan><tspan x="13.47" textLength="8.14" lengthAdjust="spacingAndGlyphs">0</tspan><tspan x="22.22" textLength="8.14" lengthAdjust="spacingAndGlyphs">0</tspan></text>
<text transform="translate(1186.55,618.00)" y="0" font-size="14.17"><tspan x="0.34" textLength="8.14" lengthAdjust="spacingAndGlyphs">0</tspan><tspan x="8.86" textLength="4.18" lengthAdjust="spacingAndGlyphs">.</tspan><tspan x="13.47" textLength="8.14" lengthAdjust="spacingAndGlyphs">0</tspan><tspan x="22.22" textLength="8.14" lengthAdjust="spacingAndGlyphs">0</tspan></text>
<text transform="translate(879.75,295.18)" y="0" font-size="14.17"><tspan x="0.34" textLength="8.14" lengthAdjust="spacingAndGlyphs">0</tspan><tspan x="8.86" textLength="4.18" lengthAdjust="spacingAndGlyphs">.</tspan><tspan x="13.43" textLength="7.85" lengthAdjust="spacingAndGlyphs">2</tspan><tspan x="22.39" textLength="7.68" lengthAdjust="spacingAndGlyphs">5</tspan></text>
<text transform="translate(1257.19,618.00)" y="0" font-size="14.17"><tspan x="0.34" textLength="8.14" lengthAdjust="spacingAndGlyphs">0</tspan><tspan x="8.86" textLength="4.18" lengthAdjust="spacingAndGlyphs">.</tspan><tspan x="13.43" textLength="7.85" lengthAdjust="spacingAndGlyphs">2</tspan><tspan x="22.39" textLength="7.68" lengthAdjust="spacingAndGlyphs">5</tspan></text>
<text transform="translate(879.46,233.55)" y="0" font-size="14.17"><tspan x="0.34" textLength="8.14" lengthAdjust="spacingAndGlyphs">0</tspan><tspan x="8.86" textLength="4.18" lengthAdjust="spacingAndGlyphs">.</tspan><tspan x="13.64" textLength="7.68" lengthAdjust="spacingAndGlyphs">5</tspan><tspan x="22.22" textLength="8.14" lengthAdjust="spacingAndGlyphs">0</tspan></text>
<text transform="translate(1327.55,618.00)" y="0" font-size="14.17"><tspan x="0.34" textLength="8.14" lengthAdjust="spacingAndGlyphs">0</tspan><tspan x="8.86" textLength="4.18" lengthAdjust="spacingAndGlyphs">.</tspan><tspan x="13.64" textLength="7.68" lengthAdjust="spacingAndGlyphs">5</tspan><tspan x="22.22" textLength="8.14" lengthAdjust="spacingAndGlyphs">0</tspan></text>
<text transform="translate(879.75,171.93)" y="0" font-size="14.17"><tspan x="0.34" textLength="8.14" lengthAdjust="spacingAndGlyphs">0</tspan><tspan x="8.86" textLength="4.18" lengthAdjust="spacingAndGlyphs">.</tspan><tspan x="13.53" textLength="7.96" lengthAdjust="spacingAndGlyphs">7</tspan><tspan x="22.39" textLength="7.68" lengthAdjust="spacingAndGlyphs">5</tspan></text>
<text transform="translate(1398.19,618.00)" y="0" font-size="14.17"><tspan x="0.34" textLength="8.14" lengthAdjust="spacingAndGlyphs">0</tspan><tspan x="8.86" textLength="4.18" lengthAdjust="spacingAndGlyphs">.</tspan><tspan x="13.53" textLength="7.96" lengthAdjust="spacingAndGlyphs">7</tspan><tspan x="22.39" textLength="7.68" lengthAdjust="spacingAndGlyphs">5</tspan></text>
<text transform="translate(879.34,110.30)" y="0" font-size="14.17"><tspan x="0.46" textLength="7.78" lengthAdjust="spacingAndGlyphs">1</tspan><tspan x="8.99" textLength="4.18" lengthAdjust="spacingAndGlyphs">.</tspan><tspan x="13.59" textLength="8.14" lengthAdjust="spacingAndGlyphs">0</tspan><tspan x="22.34" textLength="8.14" lengthAdjust="spacingAndGlyphs">0</tspan></text>
<text transform="translate(1468.18,618.00)" y="0" font-size="14.17"><tspan x="0.46" textLength="7.78" lengthAdjust="spacingAndGlyphs">1</tspan><tspan x="8.99" textLength="4.18" lengthAdjust="spacingAndGlyphs">.</tspan><tspan x="13.59" textLength="8.14" lengthAdjust="spacingAndGlyphs">0</tspan><tspan x="22.34" textLength="8.14" lengthAdjust="spacingAndGlyphs">0</tspan></text>
<text transform="translate(152.59,719.75)" y="0" font-size="22.22"><tspan x="-0.61" textLength="14.81" lengthAdjust="spacingAndGlyphs">T</tspan><tspan x="14.10" textLength="13.42" lengthAdjust="spacingAndGlyphs">h</tspan><tspan x="28.08" textLength="13.35" lengthAdjust="spacingAndGlyphs">e</tspan> <tspan x="49.20" textLength="5.05" lengthAdjust="spacingAndGlyphs">i</tspan><tspan x="55.30" textLength="13.32" lengthAdjust="spacingAndGlyphs">n</tspan><tspan x="69.28" textLength="11.15" lengthAdjust="spacingAndGlyphs">c</tspan><tspan x="81.48" textLength="13.14" lengthAdjust="spacingAndGlyphs">o</tspan><tspan x="95.21" textLength="21.09" lengthAdjust="spacingAndGlyphs">m</tspan><tspan x="117.07" textLength="5.05" lengthAdjust="spacingAndGlyphs">i</tspan><tspan x="123.18" textLength="13.32" lengthAdjust="spacingAndGlyphs">n</tspan><tspan x="137.09" textLength="13.43" lengthAdjust="spacingAndGlyphs">g</tspan> <tspan x="158.34" textLength="13.43" lengthAdjust="spacingAndGlyphs">d</tspan><tspan x="172.82" textLength="5.05" lengthAdjust="spacingAndGlyphs">i</tspan><tspan x="178.63" textLength="9.48" lengthAdjust="spacingAndGlyphs">r</tspan><tspan x="187.46" textLength="13.35" lengthAdjust="spacingAndGlyphs">e</tspan><tspan x="201.15" textLength="11.15" lengthAdjust="spacingAndGlyphs">c</tspan><tspan x="213.27" textLength="8.25" lengthAdjust="spacingAndGlyphs">t</tspan><tspan x="222.45" textLength="5.05" lengthAdjust="spacingAndGlyphs">i</tspan><tspan x="228.36" textLength="13.14" lengthAdjust="spacingAndGlyphs">o</tspan><tspan x="242.18" textLength="13.32" lengthAdjust="spacingAndGlyphs">n</tspan><tspan x="254.68" textLength="9.00" lengthAdjust="spacingAndGlyphs">,</tspan> <tspan x="270.10" textLength="8.11" lengthAdjust="spacingAndGlyphs">f</tspan><tspan x="278.11" textLength="13.14" lengthAdjust="spacingAndGlyphs">o</tspan><tspan x="291.63" textLength="9.48" lengthAdjust="spacingAndGlyphs">r</tspan> <tspan x="308.84" textLength="16.22" lengthAdjust="spacingAndGlyphs">w</tspan><tspan x="326.47" textLength="13.42" lengthAdjust="spacingAndGlyphs">h</tspan><tspan x="340.82" textLength="5.05" lengthAdjust="spacingAndGlyphs">i</tspan><tspan x="346.78" textLength="11.15" lengthAdjust="spacingAndGlyphs">c</tspan><tspan x="359.10" textLength="13.42" lengthAdjust="spacingAndGlyphs">h</tspan> <tspan x="380.15" textLength="8.25" lengthAdjust="spacingAndGlyphs">t</tspan><tspan x="389.10" textLength="13.42" lengthAdjust="spacingAndGlyphs">h</tspan><tspan x="403.08" textLength="13.35" lengthAdjust="spacingAndGlyphs">e</tspan> <tspan x="423.84" textLength="13.43" lengthAdjust="spacingAndGlyphs">d</tspan><tspan x="438.32" textLength="5.05" lengthAdjust="spacingAndGlyphs">i</tspan><tspan x="444.10" textLength="8.11" lengthAdjust="spacingAndGlyphs">f</tspan><tspan x="451.97" textLength="8.11" lengthAdjust="spacingAndGlyphs">f</tspan><tspan x="459.96" textLength="13.35" lengthAdjust="spacingAndGlyphs">e</tspan><tspan x="473.50" textLength="9.48" lengthAdjust="spacingAndGlyphs">r</tspan><tspan x="482.33" textLength="13.35" lengthAdjust="spacingAndGlyphs">e</tspan><tspan x="496.18" textLength="13.32" lengthAdjust="spacingAndGlyphs">n</tspan><tspan x="510.02" textLength="8.25" lengthAdjust="spacingAndGlyphs">t</tspan> <tspan x="526.03" textLength="11.15" lengthAdjust="spacingAndGlyphs">c</tspan><tspan x="538.33" textLength="13.32" lengthAdjust="spacingAndGlyphs">u</tspan><tspan x="552.27" textLength="8.25" lengthAdjust="spacingAndGlyphs">t</tspan><tspan x="561.11" textLength="13.14" lengthAdjust="spacingAndGlyphs">o</tspan><tspan x="574.60" textLength="8.11" lengthAdjust="spacingAndGlyphs">f</tspan><tspan x="582.47" textLength="8.11" lengthAdjust="spacingAndGlyphs">f</tspan> <tspan x="597.50" textLength="9.48" lengthAdjust="spacingAndGlyphs">r</tspan><tspan x="607.20" textLength="5.05" lengthAdjust="spacingAndGlyphs">i</tspan><tspan x="613.09" textLength="13.43" lengthAdjust="spacingAndGlyphs">g</tspan><tspan x="627.57" textLength="5.05" lengthAdjust="spacingAndGlyphs">i</tspan><tspan x="633.46" textLength="13.43" lengthAdjust="spacingAndGlyphs">d</tspan><tspan x="647.95" textLength="5.05" lengthAdjust="spacingAndGlyphs">i</tspan><tspan x="653.77" textLength="8.25" lengthAdjust="spacingAndGlyphs">t</tspan><tspan x="662.95" textLength="5.05" lengthAdjust="spacingAndGlyphs">i</tspan><tspan x="668.83" textLength="13.35" lengthAdjust="spacingAndGlyphs">e</tspan><tspan x="682.86" textLength="10.65" lengthAdjust="spacingAndGlyphs">s</tspan> <tspan x="701.49" textLength="11.11" lengthAdjust="spacingAndGlyphs">a</tspan><tspan x="715.05" textLength="13.32" lengthAdjust="spacingAndGlyphs">n</tspan><tspan x="728.96" textLength="13.43" lengthAdjust="spacingAndGlyphs">d</tspan> <tspan x="750.15" textLength="8.25" lengthAdjust="spacingAndGlyphs">t</tspan><tspan x="759.10" textLength="13.42" lengthAdjust="spacingAndGlyphs">h</tspan><tspan x="773.08" textLength="13.35" lengthAdjust="spacingAndGlyphs">e</tspan> <tspan x="794.08" textLength="13.45" lengthAdjust="spacingAndGlyphs">p</tspan><tspan x="807.96" textLength="13.35" lengthAdjust="spacingAndGlyphs">e</tspan><tspan x="821.80" textLength="13.32" lengthAdjust="spacingAndGlyphs">n</tspan><tspan x="835.83" textLength="13.32" lengthAdjust="spacingAndGlyphs">u</tspan><tspan x="849.96" textLength="21.09" lengthAdjust="spacingAndGlyphs">m</tspan><tspan x="871.71" textLength="13.45" lengthAdjust="spacingAndGlyphs">b</tspan><tspan x="885.50" textLength="9.48" lengthAdjust="spacingAndGlyphs">r</tspan><tspan x="895.11" textLength="11.11" lengthAdjust="spacingAndGlyphs">a</tspan> <tspan x="915.99" textLength="10.65" lengthAdjust="spacingAndGlyphs">s</tspan><tspan x="927.15" textLength="8.25" lengthAdjust="spacingAndGlyphs">t</tspan><tspan x="935.88" textLength="9.48" lengthAdjust="spacingAndGlyphs">r</tspan><tspan x="945.33" textLength="13.32" lengthAdjust="spacingAndGlyphs">u</tspan><tspan x="959.40" textLength="11.15" lengthAdjust="spacingAndGlyphs">c</tspan><tspan x="971.52" textLength="8.25" lengthAdjust="spacingAndGlyphs">t</tspan><tspan x="980.46" textLength="13.32" lengthAdjust="spacingAndGlyphs">u</tspan><tspan x="994.38" textLength="9.48" lengthAdjust="spacingAndGlyphs">r</tspan><tspan x="1003.21" textLength="13.35" lengthAdjust="spacingAndGlyphs">e</tspan> <tspan x="1024.24" textLength="11.11" lengthAdjust="spacingAndGlyphs">a</tspan><tspan x="1037.50" textLength="9.48" lengthAdjust="spacingAndGlyphs">r</tspan><tspan x="1046.33" textLength="13.35" lengthAdjust="spacingAndGlyphs">e</tspan> <tspan x="1067.15" textLength="11.15" lengthAdjust="spacingAndGlyphs">c</tspan><tspan x="1079.36" textLength="13.14" lengthAdjust="spacingAndGlyphs">o</tspan><tspan x="1093.09" textLength="21.09" lengthAdjust="spacingAndGlyphs">m</tspan><tspan x="1114.83" textLength="13.45" lengthAdjust="spacingAndGlyphs">p</tspan><tspan x="1128.83" textLength="13.32" lengthAdjust="spacingAndGlyphs">u</tspan><tspan x="1142.77" textLength="8.25" lengthAdjust="spacingAndGlyphs">t</tspan><tspan x="1151.58" textLength="13.35" lengthAdjust="spacingAndGlyphs">e</tspan><tspan x="1165.21" textLength="13.43" lengthAdjust="spacingAndGlyphs">d</tspan> <tspan x="1186.99" textLength="6.26" lengthAdjust="spacingAndGlyphs">(</tspan><tspan x="1195.44" textLength="5.05" lengthAdjust="spacingAndGlyphs">l</tspan><tspan x="1201.33" textLength="13.35" lengthAdjust="spacingAndGlyphs">e</tspan><tspan x="1214.85" textLength="8.11" lengthAdjust="spacingAndGlyphs">f</tspan><tspan x="1222.40" textLength="8.25" lengthAdjust="spacingAndGlyphs">t</tspan> <tspan x="1238.58" textLength="13.45" lengthAdjust="spacingAndGlyphs">p</tspan><tspan x="1252.74" textLength="11.11" lengthAdjust="spacingAndGlyphs">a</tspan><tspan x="1266.30" textLength="13.32" lengthAdjust="spacingAndGlyphs">n</tspan><tspan x="1280.21" textLength="13.35" lengthAdjust="spacingAndGlyphs">e</tspan><tspan x="1294.19" textLength="5.05" lengthAdjust="spacingAndGlyphs">l</tspan><tspan x="1301.54" textLength="6.26" lengthAdjust="spacingAndGlyphs">)</tspan><tspan x="1307.30" textLength="9.00" lengthAdjust="spacingAndGlyphs">,</tspan></text>
<text transform="translate(591.76,752.00)" y="0" font-size="22.22"><tspan x="0.57" textLength="5.05" lengthAdjust="spacingAndGlyphs">i</tspan><tspan x="6.86" textLength="10.65" lengthAdjust="spacingAndGlyphs">s</tspan> <tspan x="25.61" textLength="10.65" lengthAdjust="spacingAndGlyphs">s</tspan><tspan x="37.20" textLength="5.05" lengthAdjust="spacingAndGlyphs">i</tspan><tspan x="43.09" textLength="13.43" lengthAdjust="spacingAndGlyphs">g</tspan><tspan x="57.43" textLength="13.32" lengthAdjust="spacingAndGlyphs">n</tspan><tspan x="71.33" textLength="13.35" lengthAdjust="spacingAndGlyphs">e</tspan><tspan x="84.96" textLength="13.43" lengthAdjust="spacingAndGlyphs">d</tspan> <tspan x="106.46" textLength="13.45" lengthAdjust="spacingAndGlyphs">b</tspan><tspan x="120.73" textLength="11.93" lengthAdjust="spacingAndGlyphs">y</tspan> <tspan x="140.52" textLength="8.25" lengthAdjust="spacingAndGlyphs">t</tspan><tspan x="149.47" textLength="13.42" lengthAdjust="spacingAndGlyphs">h</tspan><tspan x="163.46" textLength="13.35" lengthAdjust="spacingAndGlyphs">e</tspan> <tspan x="184.13" textLength="9.48" lengthAdjust="spacingAndGlyphs">r</tspan><tspan x="192.96" textLength="13.35" lengthAdjust="spacingAndGlyphs">e</tspan><tspan x="206.59" textLength="13.43" lengthAdjust="spacingAndGlyphs">d</tspan> <tspan x="228.08" textLength="13.45" lengthAdjust="spacingAndGlyphs">p</tspan><tspan x="241.98" textLength="13.14" lengthAdjust="spacingAndGlyphs">o</tspan><tspan x="255.95" textLength="5.05" lengthAdjust="spacingAndGlyphs">i</tspan><tspan x="262.05" textLength="13.32" lengthAdjust="spacingAndGlyphs">n</tspan><tspan x="275.90" textLength="8.25" lengthAdjust="spacingAndGlyphs">t</tspan> <tspan x="292.37" textLength="6.26" lengthAdjust="spacingAndGlyphs">(</tspan><tspan x="300.38" textLength="9.48" lengthAdjust="spacingAndGlyphs">r</tspan><tspan x="310.07" textLength="5.05" lengthAdjust="spacingAndGlyphs">i</tspan><tspan x="315.96" textLength="13.43" lengthAdjust="spacingAndGlyphs">g</tspan><tspan x="330.22" textLength="13.42" lengthAdjust="spacingAndGlyphs">h</tspan><tspan x="344.15" textLength="8.25" lengthAdjust="spacingAndGlyphs">t</tspan> <tspan x="360.33" textLength="13.45" lengthAdjust="spacingAndGlyphs">p</tspan><tspan x="374.49" textLength="11.11" lengthAdjust="spacingAndGlyphs">a</tspan><tspan x="388.05" textLength="13.32" lengthAdjust="spacingAndGlyphs">n</tspan><tspan x="401.96" textLength="13.35" lengthAdjust="spacingAndGlyphs">e</tspan><tspan x="415.94" textLength="5.05" lengthAdjust="spacingAndGlyphs">l</tspan><tspan x="423.29" textLength="6.26" lengthAdjust="spacingAndGlyphs">)</tspan></text>
<text transform="translate(775.85,784.20)" y="0" font-size="14.17"><tspan x="0.01" textLength="4.08" lengthAdjust="spacingAndGlyphs">I</tspan><tspan x="4.38" textLength="8.03" lengthAdjust="spacingAndGlyphs">E</tspan><tspan x="13.11" textLength="8.19" lengthAdjust="spacingAndGlyphs">P</tspan> <tspan x="25.85" textLength="8.26" lengthAdjust="spacingAndGlyphs">S</tspan><tspan x="34.58" textLength="9.33" lengthAdjust="spacingAndGlyphs">A</tspan><tspan x="44.35" textLength="8.26" lengthAdjust="spacingAndGlyphs">S</tspan></text>
</svg>
</body></html>
